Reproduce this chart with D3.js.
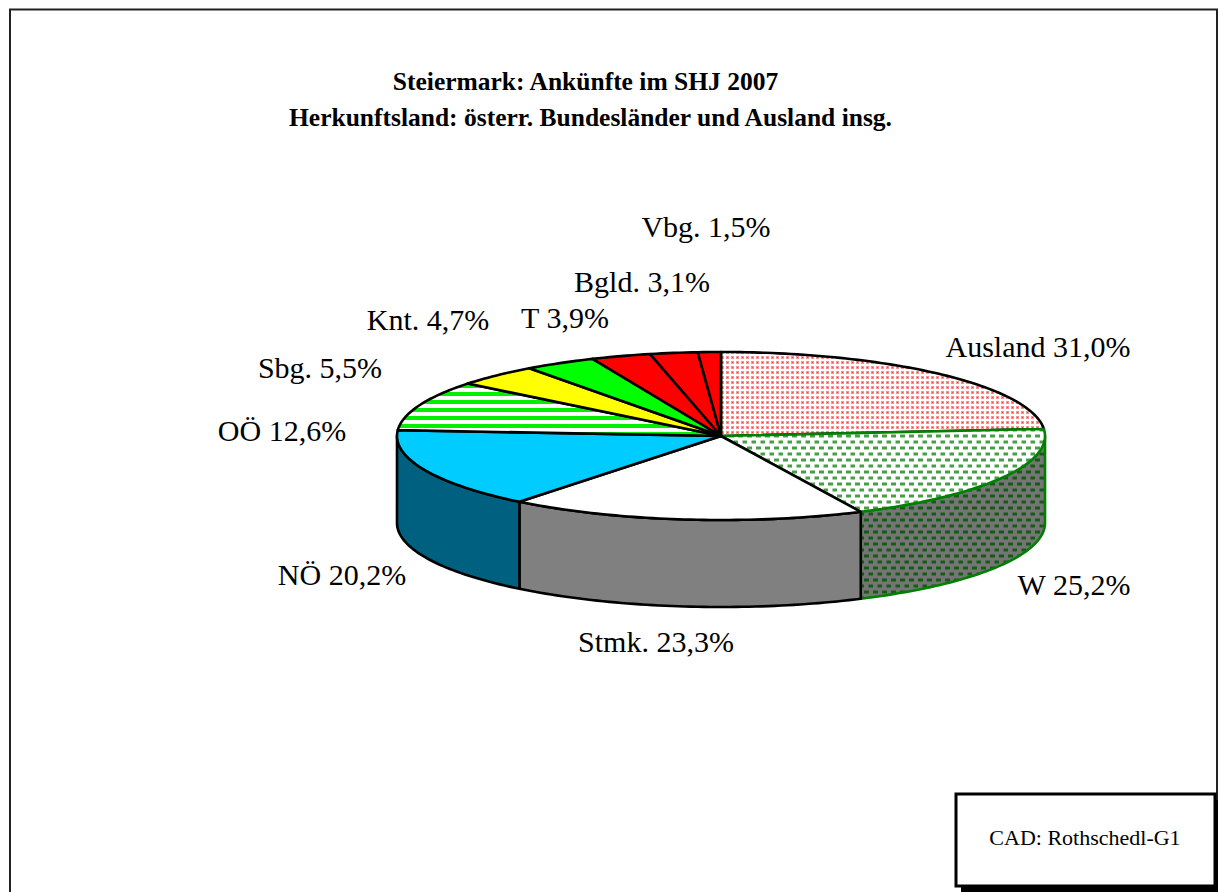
<!DOCTYPE html>
<html>
<head>
<meta charset="utf-8">
<script src="https://cdn.jsdelivr.net/npm/d3@7"></script>
<style>
  html, body { margin: 0; padding: 0; background: #fff; }
  svg { display: block; }
  text { font-family: "Liberation Serif", serif; fill: #000; }
</style>
</head>
<body>
<svg id="chart" width="1218" height="892"></svg>
<script>
'use strict';

// Values as printed on the labels (they add up to more than 100, the pie just normalises them)
var regions = ['Ausland', 'W', 'Stmk.', 'NÖ', 'OÖ', 'Sbg.', 'Knt.', 'T', 'Bgld.', 'Vbg.'];
var shares = [31.0, 25.2, 23.3, 20.2, 12.6, 5.5, 4.7, 3.9, 3.1, 1.5];
var titleLines = ['Steiermark: Ankünfte im SHJ 2007', 'Herkunftsland: österr. Bundesländer und Ausland insg.'];
var sourceNote = 'CAD: Rothschedl-G1';

// Layout
var center = { x: 721, y: 436 };
var radius = { x: 324, y: 84 };
var depth = 87;
var topFills = ['url(#dots-red)', 'url(#dots-green)', '#fff', '#00ccff', 'url(#stripes-green)', '#ffff00', '#00ff00', '#ff0000', '#ff0000', '#ff0000'];
var wallFills = ['none', 'url(#dots-green-dark)', '#808080', '#006080', 'none', 'none', 'none', 'none', 'none', 'none'];
var strokes = ['#000', '#008000', '#000', '#000', '#000', '#000', '#000', '#000', '#000', '#000'];
var labelCenters = [[1038, 347], [1074, 585], [656, 642], [342, 575], [282, 431], [320, 368], [428, 320], [565, 318], [642, 282], [706, 227]];

var svg = d3.select('#chart');
var defs = svg.append('defs');

function addPattern(id, w, h, bg, rects) {
  var p = defs.append('pattern').attr('id', id).attr('patternUnits', 'userSpaceOnUse')
    .attr('width', w).attr('height', h);
  p.append('rect').attr('width', w).attr('height', h).attr('fill', bg);
  rects.forEach(function(r) {
    p.append('rect').attr('x', r[0]).attr('y', r[1]).attr('width', r[2]).attr('height', r[3]).attr('fill', r[4]);
  });
}
addPattern('dots-red', 5, 5, '#fff', [[1, 1, 3, 3, '#ff9090'], [2, 2, 1, 1, '#ff4040']]);
addPattern('dots-green', 9, 12, '#fff', [[0, 2.5, 5, 3, '#459f45'], [4.5, 8.5, 5, 3, '#459f45']]);
addPattern('dots-green-dark', 9, 12, '#757575', [[0, 2.5, 5, 3, '#155a15'], [4.5, 8.5, 5, 3, '#155a15']]);
addPattern('stripes-green', 8, 8, '#fff', [[0, 0, 8, 4, '#00f000']]);

// Chart frame, open at the bottom
svg.append('path')
  .attr('d', 'M10,892V9.5H1217V892')
  .attr('fill', 'none').attr('stroke', '#222').attr('stroke-width', 2);

svg.selectAll('text.title')
  .data(titleLines)
  .enter().append('text')
  .attr('class', 'title')
  .attr('x', function(d, i) { return i === 0 ? 585.5 : 590.5; })
  .attr('y', function(d, i) { return 90 + i * 36; })
  .attr('text-anchor', 'middle')
  .attr('font-size', 25.5)
  .attr('font-weight', 'bold')
  .text(function(d) { return d; });

var px = d3.scaleLinear().domain([-1, 1]).range([center.x - radius.x, center.x + radius.x]);
var py = d3.scaleLinear().domain([-1, 1]).range([center.y - radius.y, center.y + radius.y]);
var slices = d3.pie().sort(null)(shares);

// Point on the rim; angle 0 is twelve o'clock, going clockwise
function rimPoint(a, drop) {
  return [px(Math.sin(a)), py(-Math.cos(a)) + (drop || 0)];
}

function rimAngles(a0, a1) {
  var n = Math.max(2, Math.ceil((a1 - a0) / 0.02));
  return d3.range(n + 1).map(function(i) { return a0 + (a1 - a0) * i / n; });
}

var line = d3.line();

// Side walls first, only the front half of the rim shows
slices.forEach(function(s, i) {
  var a0 = Math.max(s.startAngle, Math.PI / 2);
  var a1 = Math.min(s.endAngle, Math.PI * 3 / 2);
  if (a1 <= a0) return;
  var angles = rimAngles(a0, a1);
  var pts = angles.map(function(a) { return rimPoint(a, 0); })
    .concat(angles.slice().reverse().map(function(a) { return rimPoint(a, depth); }));
  svg.append('path')
    .attr('class', 'wall')
    .attr('d', line(pts) + 'Z')
    .attr('fill', wallFills[i])
    .attr('stroke', strokes[i])
    .attr('stroke-width', 2.6)
    .attr('stroke-linejoin', 'round');
});

// Top faces
slices.forEach(function(s, i) {
  var pts = [[px(0), py(0)]].concat(rimAngles(s.startAngle, s.endAngle).map(function(a) { return rimPoint(a, 0); }));
  svg.append('path')
    .attr('class', 'slice')
    .attr('d', line(pts) + 'Z')
    .attr('fill', topFills[i])
    .attr('stroke', strokes[i])
    .attr('stroke-width', 2.6)
    .attr('stroke-linejoin', 'round');
});

// Labels
var percent = function(v) { return v.toFixed(1).replace('.', ',') + '%'; };
svg.selectAll('text.label')
  .data(regions)
  .enter().append('text')
  .attr('class', 'label')
  .attr('x', function(d, i) { return labelCenters[i][0]; })
  .attr('y', function(d, i) { return labelCenters[i][1] + 10; })
  .attr('text-anchor', 'middle')
  .attr('font-size', 30)
  .text(function(d, i) { return d + ' ' + percent(shares[i]); });

// Source box with drop shadow
svg.append('rect').attr('x', 961).attr('y', 800).attr('width', 257).attr('height', 92).attr('fill', '#000');
svg.append('rect').attr('x', 956).attr('y', 794).attr('width', 259).attr('height', 92)
  .attr('fill', '#fff').attr('stroke', '#000').attr('stroke-width', 3);
svg.append('text')
  .attr('x', 1085).attr('y', 845)
  .attr('text-anchor', 'middle')
  .attr('font-size', 22)
  .text(sourceNote);
</script>
</body>
</html>
